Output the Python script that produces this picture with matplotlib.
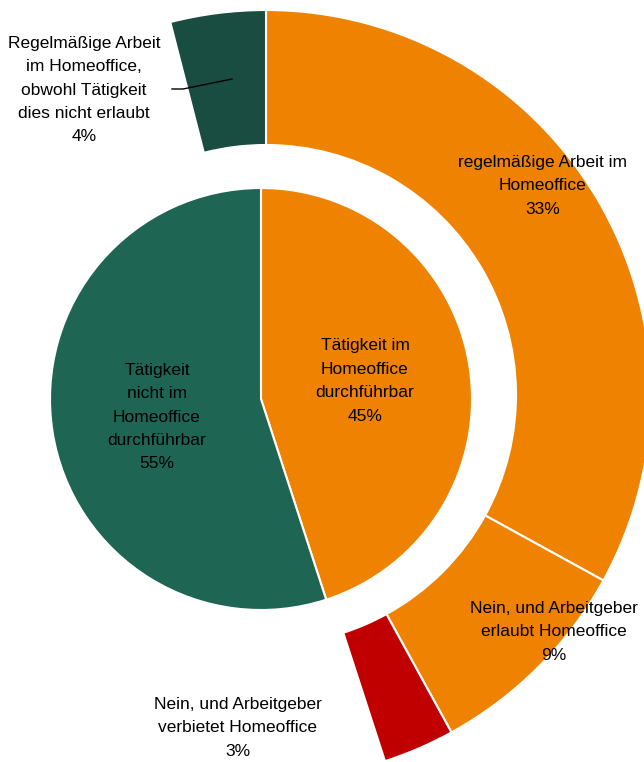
import matplotlib.pyplot as plt

# ======================================================
# DATA
# ======================================================
inner_labels = ["Tätigkeit im\nHomeoffice\ndurchführbar",
                "Tätigkeit\nnicht im\nHomeoffice\ndurchführbar"]
inner_values = [45, 55]

outer_labels = ["regelmäßige Arbeit im\nHomeoffice",
                "Nein, und Arbeitgeber\nerlaubt Homeoffice",
                "Nein, und Arbeitgeber\nverbietet Homeoffice",
                "Regelmäßige Arbeit\nim Homeoffice,\nobwohl Tätigkeit\ndies nicht erlaubt"]
outer_values = [33, 9, 3, 4]

# ======================================================
# STYLE
# ======================================================
ORANGE = "#EF8200"
GREEN_IN = "#1F6554"
GREEN_OUT = "#1A4D42"
RED = "#C00000"

plt.rcParams["font.family"] = ["Liberation Sans", "DejaVu Sans"]
FS = 12.5

W, H = 644, 762
fig = plt.figure(figsize=(W / 100, H / 100), dpi=100)
ax = fig.add_axes([0, 0, 1, 1])

# ======================================================
# INNER PIE
# ======================================================
ax.pie(inner_values, colors=[ORANGE, GREEN_IN], startangle=90,
       counterclock=False, center=(261, H - 399), radius=211,
       wedgeprops=dict(edgecolor="white", linewidth=1.5), frame=False)

# ======================================================
# OUTER RING (gap = rest of the green share)
# ======================================================
gap = inner_values[1] - outer_values[3]
ring_vals = outer_values[:3] + [gap] + outer_values[3:]
ring_cols = [ORANGE, ORANGE, RED, "white", GREEN_OUT]
wedges, _ = ax.pie(ring_vals, colors=ring_cols, startangle=90,
                   counterclock=False, center=(266, H - 395), radius=385,
                   explode=[0, 0, 0.036, 0, 0],
                   wedgeprops=dict(width=135, edgecolor="white", linewidth=1.5),
                   frame=False)
wedges[3].set_visible(False)

ax.set_xlim(0, W)
ax.set_ylim(0, H)
ax.set_aspect("equal")
ax.axis("off")

# ======================================================
# LABELS
# ======================================================
txt = dict(ha="center", va="center", fontsize=FS, linespacing=1.7, color="black")

ax.text(365, H - 381, f"{inner_labels[0]}\n{inner_values[0]}%", **txt)
ax.text(157, H - 417, f"{inner_labels[1]}\n{inner_values[1]}%", **txt)

ax.text(543, H - 186, f"{outer_labels[0]}\n{outer_values[0]}%", **txt)
ax.text(554, H - 632, f"{outer_labels[1]}\n{outer_values[1]}%", **txt)
ax.text(238, H - 728, f"{outer_labels[2]}\n{outer_values[2]}%", **txt)
ax.text(84, H - 90, f"{outer_labels[3]}\n{outer_values[3]}%", **txt)

# leader line for the 4% slice
ax.plot([172, 183, 232], [H - 89, H - 89, H - 79], color="black", linewidth=1)

fig.savefig("out.png", dpi=100)
